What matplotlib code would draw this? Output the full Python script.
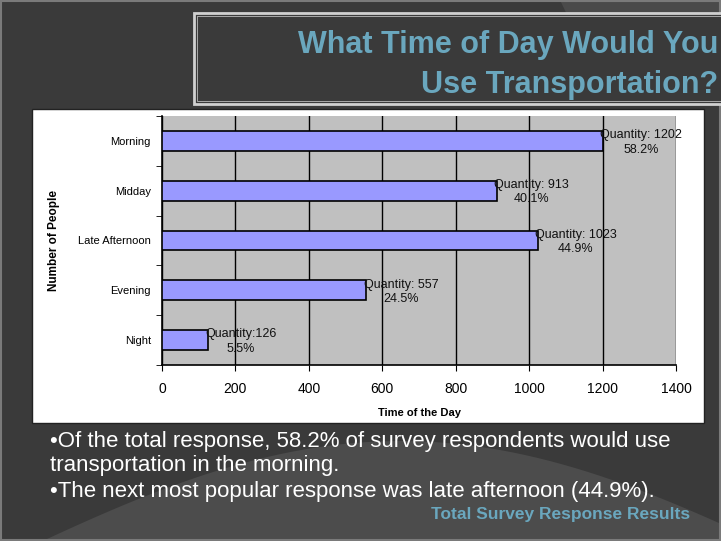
import matplotlib
matplotlib.use("Agg")
import matplotlib.pyplot as plt
from matplotlib.patches import Rectangle, Polygon
import numpy as np

categories = ["Morning", "Midday", "Late Afternoon", "Evening", "Night"]
quantities = [1202, 913, 1023, 557, 126]
percents = ["58.2%", "40.1%", "44.9%", "24.5%", "5.5%"]
label_prefix = ["Quantity: ", "Quantity: ", "Quantity: ", "Quantity: ", "Quantity:"]
xticks = [0, 200, 400, 600, 800, 1000, 1200, 1400]

W, H = 721, 541
fig = plt.figure(figsize=(W / 100, H / 100), dpi=100)
fig.patch.set_facecolor("#3a3a3a")

bg = fig.add_axes([0, 0, 1, 1])
bg.set_xlim(0, W)
bg.set_ylim(H, 0)
bg.axis("off")
bg.set_zorder(-5)

# subtle lighter swooshes
bg.add_patch(Polygon([[560, 0], [721, 0], [721, 105], [610, 105]], closed=True,
                     facecolor="#4a4a4a", edgecolor="none"))
t = np.linspace(0, 1, 60)
xs = 0 + 721 * t
ys = 541 - 120 * np.sin(np.pi * t * 0.9) + 20
bg.add_patch(Polygon(np.column_stack([np.r_[xs, 721, 0], np.r_[ys, 541, 541]]), closed=True,
                     facecolor="#4c4c4c", edgecolor="none"))
# outer frame
bg.add_patch(Rectangle((1, 1), W - 2, H - 2, fill=False, edgecolor="#7a7a7a", lw=1.5))
# title box
bg.add_patch(Rectangle((194, 13), 540, 91, facecolor="#3a3a3a", edgecolor="#d0d0d0", lw=2.0))
bg.add_patch(Rectangle((197, 16), 540, 85, fill=False, edgecolor="#bbbbbb", lw=0.6))
# white chart panel
bg.add_patch(Rectangle((32, 109), 672, 314, facecolor="white", edgecolor="#222222", lw=1))

bg.text(718, 53, "What Time of Day Would You", ha="right", va="baseline",
        fontsize=22, fontweight="bold", color="#6aa7be", family="Liberation Sans")
bg.text(718, 93, "Use Transportation?", ha="right", va="baseline",
        fontsize=22, fontweight="bold", color="#6aa7be", family="Liberation Sans")

bg.text(50, 442, "\u2022Of the total response, 58.2% of survey respondents would use",
        ha="left", va="center", fontsize=16, color="white", family="Liberation Sans")
bg.text(50, 466, "transportation in the morning.",
        ha="left", va="center", fontsize=16, color="white", family="Liberation Sans")
bg.text(50, 491, "\u2022The next most popular response was late afternoon (44.9%).",
        ha="left", va="center", fontsize=16, color="white", family="Liberation Sans")
bg.text(690, 515, "Total Survey Response Results", ha="right", va="center",
        fontsize=12.5, fontweight="bold", color="#6aa7be", family="Liberation Sans")

ax = fig.add_axes([162 / W, 1 - 365 / H, (676 - 162) / W, (365 - 116) / H])
ax.set_facecolor("#c0c0c0")
y = np.arange(len(categories))
ax.barh(y, quantities, height=0.4, color="#9999ff", edgecolor="black", lw=1.2, zorder=3)
ax.set_xlim(0, 1400)
ax.set_ylim(len(categories) - 0.5, -0.5)
ax.set_xticks(xticks)
ax.set_xticklabels([str(v) for v in xticks], fontsize=10, family="Liberation Sans")
ax.set_yticks(y)
ax.set_yticklabels(categories, fontsize=8, family="Liberation Sans")
ax.set_yticks(np.arange(-0.5, len(categories), 1), minor=True)
ax.tick_params(axis="y", which="major", length=0, pad=8)
ax.tick_params(axis="y", which="minor", length=4, direction="out")
ax.tick_params(axis="x", length=4, direction="out", pad=8)
ax.grid(axis="x", color="black", lw=1, zorder=1)
for s in ["top", "right"]:
    ax.spines[s].set_visible(False)
ax.spines["left"].set_linewidth(1.2)
ax.spines["bottom"].set_linewidth(1.2)

for i, (q, p, pre) in enumerate(zip(quantities, percents, label_prefix)):
    ax.text(q - 8, i + 0.03, f"{pre}{q}\n{p}", ha="left", va="center", multialignment="center",
            fontsize=9, family="Liberation Sans", color="#111111", zorder=4, linespacing=1.25)

ax.set_xlabel("Time of the Day", fontsize=8, fontweight="bold", family="Liberation Sans", labelpad=9)
ax.set_ylabel("Number of People", fontsize=8.5, fontweight="bold", family="Liberation Sans", labelpad=13)

fig.savefig("out.png", dpi=100, facecolor=fig.get_facecolor())
